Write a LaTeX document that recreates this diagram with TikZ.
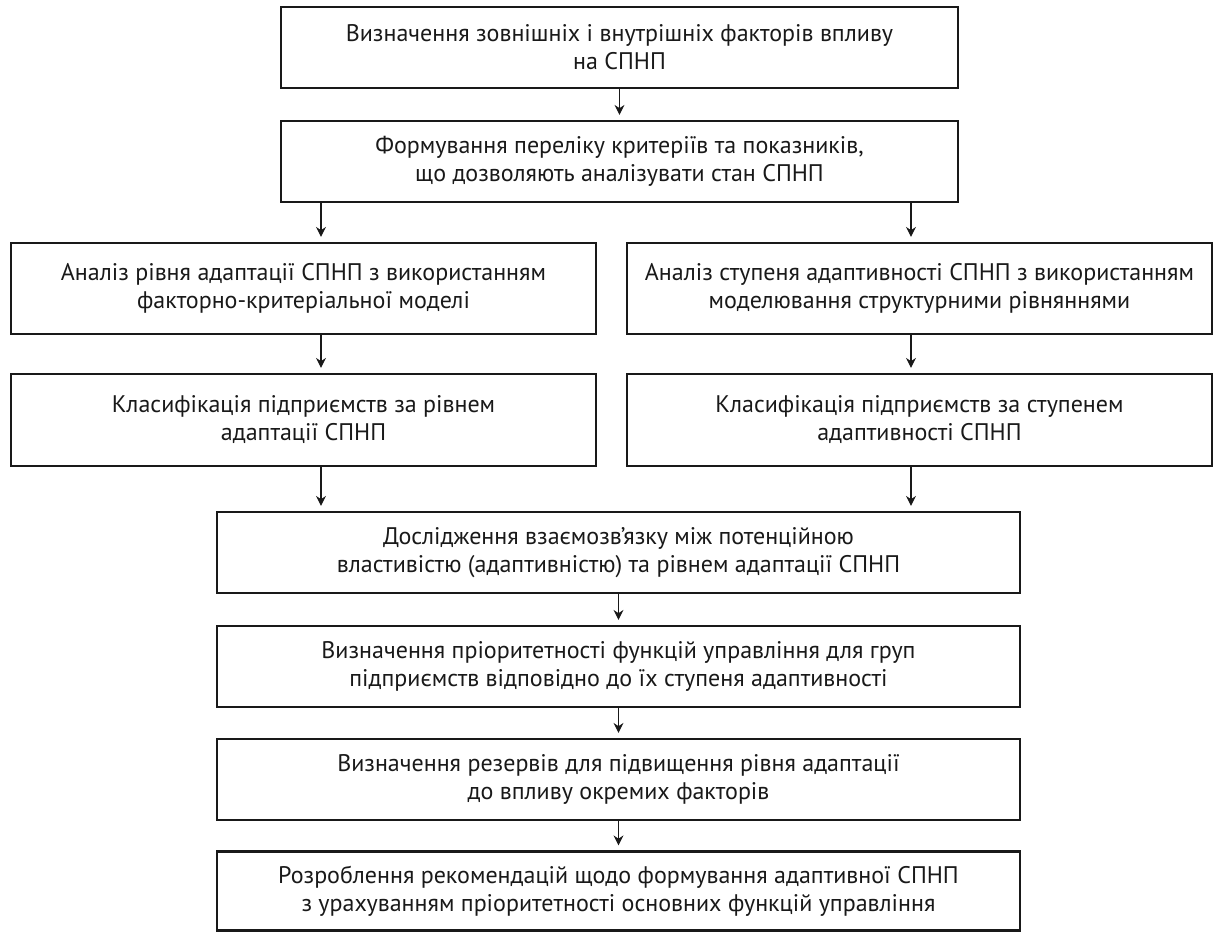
\documentclass[tikz,border=0pt]{standalone}
\usepackage{fontspec}
\setmainfont{PT Sans}
\usetikzlibrary{arrows.meta}

\tikzset{
  stage/.style={draw=black!90, line width=1.1pt, align=center, inner sep=0pt,
    text=black!90, font=\fontsize{12}{14}\selectfont},
  arr/.style={-{Stealth[length=5pt,width=5pt]}, line width=0.55pt, draw=black!90, shorten >=2.5pt}
}

\begin{document}
\begin{tikzpicture}[x=0.5pt,y=-0.5pt]
        \useasboundingbox (0,0) rectangle (1216,934);

        % upper part
        \node[stage, minimum width=338.5pt, minimum height=40.5pt] (b1) at (619.5,47.5)
          {Визначення зовнішніх і внутрішніх факторів впливу\\на СПНП};
        \node[stage, minimum width=338.5pt, minimum height=40.5pt] (b2) at (619.5,161.5)
          {Формування переліку критеріїв та показників,\\що дозволяють аналізувати стан СПНП};

        % two branches
        \node[stage, minimum width=292.5pt, minimum height=45.5pt] (b3L) at (303.5,288.5)
          {Аналіз рівня адаптації СПНП з використанням\\факторно-критеріальної моделі};
        \node[stage, minimum width=292.5pt, minimum height=45.5pt] (b3R) at (919.5,288.5)
          {Аналіз ступеня адаптивності СПНП з використанням\\моделювання структурними рівняннями};
        \node[stage, minimum width=292.5pt, minimum height=46pt] (b4L) at (303.5,420)
          {Класифікація підприємств за рівнем\\адаптації СПНП};
        \node[stage, minimum width=292.5pt, minimum height=46pt] (b4R) at (919.5,420)
          {Класифікація підприємств за ступенем\\адаптивності СПНП};

        % lower part
        \node[stage, minimum width=401.5pt, minimum height=40.5pt] (b5) at (618.5,552.5)
          {Дослідження взаємозв’язку між потенційною\\властивістю (адаптивністю) та рівнем адаптації СПНП};
        \node[stage, minimum width=401.5pt, minimum height=40.5pt] (b6) at (618.5,666.5)
          {Визначення пріоритетності функцій управління для груп\\підприємств відповідно до їх ступеня адаптивності};
        \node[stage, minimum width=401.5pt, minimum height=40.5pt] (b7) at (618.5,779.5)
          {Визначення резервів для підвищення рівня адаптації\\до впливу окремих факторів};
        \node[stage, minimum width=401.5pt, minimum height=39.5pt] (b8) at (618.5,891)
          {Розроблення рекомендацій щодо формування адаптивної СПНП\\з урахуванням пріоритетності основних функцій управління};

        \coordinate (pL) at (321,0);
        \coordinate (pR) at (911,0);

        \draw[arr] (b1) -- (b2);
        \draw[arr] (b2.south -| pL) -- (b3L.north -| pL);
        \draw[arr] (b2.south -| pR) -- (b3R.north -| pR);
        \draw[arr] (b3L.south -| pL) -- (b4L.north -| pL);
        \draw[arr] (b3R.south -| pR) -- (b4R.north -| pR);
        \draw[arr] (b4L.south -| pL) -- (b5.north -| pL);
        \draw[arr] (b4R.south -| pR) -- (b5.north -| pR);
        \draw[arr] (b5) -- (b6);
        \draw[arr] (b6) -- (b7);
        \draw[arr] (b7) -- (b8);
\end{tikzpicture}
\end{document}
